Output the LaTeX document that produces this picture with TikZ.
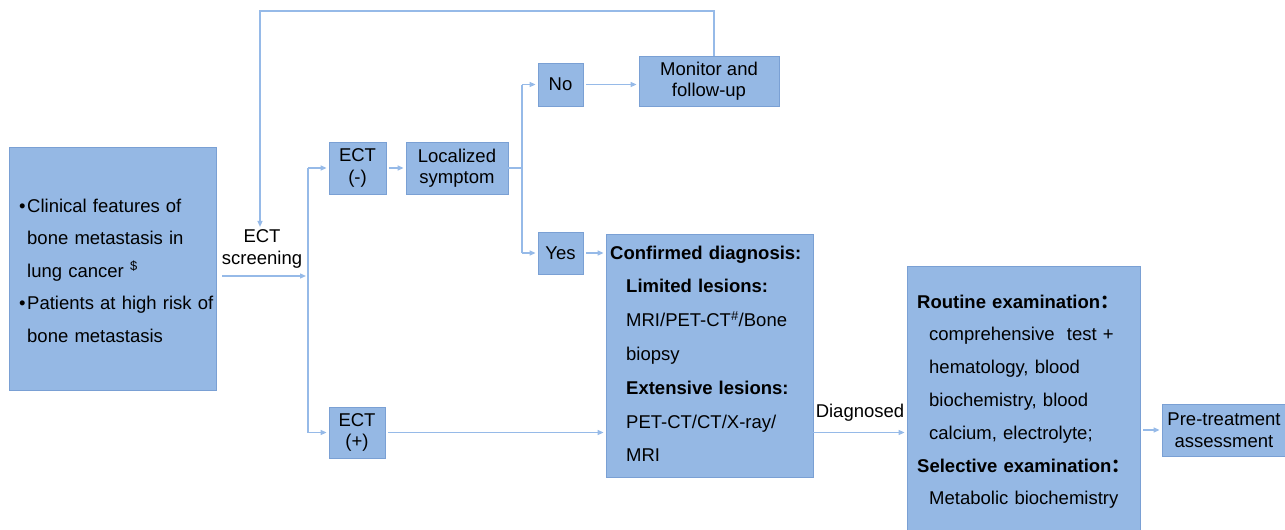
\documentclass[tikz,border=0pt]{standalone}
\usepackage{fontspec}
\setmainfont{Liberation Sans}
\newfontfamily\cjk{Noto Sans CJK SC}
\usetikzlibrary{arrows.meta}
\definecolor{boxfill}{RGB}{149,184,228}
\definecolor{boxdraw}{RGB}{122,160,212}
\definecolor{linec}{RGB}{150,186,232}
\begin{document}
\begin{tikzpicture}[x=1pt,y=-1pt,
  box/.style={draw=boxdraw,fill=boxfill,line width=0.8pt,inner sep=0pt,align=center,font=\fontsize{18.5}{21.5}\selectfont},
  lbl/.style={inner sep=0pt,align=center,font=\fontsize{18.5}{22}\selectfont},
  para/.style={inner sep=0pt,align=left,anchor=north west},
  conn/.style={draw=linec,line width=1.3pt},
  arr/.style={conn,-{Triangle[length=6pt,width=5pt]},shorten >=2pt},
  arrb/.style={arr,shorten <=3pt},
]
\useasboundingbox (0,0) rectangle (1285,530);

% boxes
\node[box,minimum width=207,minimum height=243] (src) at (112.5,268.5) {};
\node[box,minimum width=57,minimum height=52] (ectm) at (357.5,168) {ECT\\(-)};
\node[box,minimum width=102,minimum height=52] (loc) at (457,168) {Localized\\symptom};
\node[box,minimum width=45,minimum height=43] (no) at (560.5,84.5) {No};
\node[box,minimum width=140,minimum height=50] (mon) at (709,81) {Monitor and\\follow-up};
\node[box,minimum width=45,minimum height=42] (yes) at (560.5,253) {Yes};
\node[box,minimum width=56,minimum height=51] (ectp) at (357,432.5) {ECT\\(+)};
\node[box,minimum width=207,minimum height=243] (conf) at (709.5,355.5) {};
\node[box,minimum width=233,minimum height=264] (routine) at (1023.5,398) {};
\node[box,minimum width=124,minimum height=52] (pre) at (1224,430) {Pre-treatment\\assessment};

% paragraph texts
\node[para,text width=200pt,font=\fontsize{18.5}{32.5}\selectfont] (srctxt) at (19,189.25)
  {\strut\makebox[8pt][l]{•}Clinical features of\\
   \hspace*{8pt}bone metastasis in\\
   \hspace*{8pt}lung cancer \textsuperscript{\$}\\
   \makebox[8pt][l]{•}Patients at high risk of\\
   \hspace*{8pt}bone metastasis};
\node[para,text width=205pt,font=\fontsize{18.5}{33.8}\selectfont] (conftxt) at (610,235.3)
  {\strut\textbf{Confirmed diagnosis:}\\
   \hspace*{16pt}\textbf{Limited lesions:}\\
   \hspace*{16pt}MRI/PET-CT\textsuperscript{\#}/Bone\\
   \hspace*{16pt}biopsy\\
   \hspace*{16pt}\textbf{Extensive lesions:}\\
   \hspace*{16pt}PET-CT/CT/X-ray/\\
   \hspace*{16pt}MRI};
\node[para,text width=225pt,font=\fontsize{18.5}{32.8}\selectfont] (routtxt) at (917,285)
  {\strut\textbf{Routine examination}{\cjk\bfseries ：}\\
   \hspace*{12pt}comprehensive\ \ test +\\
   \hspace*{12pt}hematology, blood\\
   \hspace*{12pt}biochemistry, blood\\
   \hspace*{12pt}calcium, electrolyte;\\
   \textbf{Selective examination}{\cjk\bfseries ：}\\
   \hspace*{12pt}Metabolic biochemistry};

% labels
\node[lbl] (scr) at (262,248.5) {ECT\\screening};
\node[lbl,anchor=base] (dg) at (860,417) {Diagnosed};

% connectors
\coordinate (scrA) at (222,276);
\coordinate (splitM) at (308,276);
\draw[arr] (scrA) -- (splitM);
\draw[conn] (splitM |- ectm.west) -- (splitM |- ectp.west);
\draw[arr] (splitM |- ectm.west) -- (ectm.west);
\draw[arr] (splitM |- ectp.west) -- (ectp.west);
\draw[arrb] (ectm.east) -- (loc.west);
\coordinate (splitL) at (522,168);
\draw[conn] (loc.east) -- (splitL);
\draw[conn] (splitL |- no.west) -- (splitL |- yes.west);
\draw[arr] (splitL |- no.west) -- (no.west);
\draw[arr] (splitL |- yes.west) -- (yes.west);
\draw[arrb] (no.east) -- (no.east -| mon.west);
\draw[arrb] (yes.east) -- (yes.east -| conf.west);
\draw[arrb] (ectp.east) -- (ectp.east -| conf.west);
\draw[arr] (conf.east |- ectp.east) -- (routine.west |- ectp.east);
\draw[arrb] (routine.east |- pre.west) -- (pre.west);
\coordinate (fb) at (260,11);
\draw[arr] ([xshift=5pt]mon.north) |- (fb) -- (fb |- scr.north);
\end{tikzpicture}
\end{document}
